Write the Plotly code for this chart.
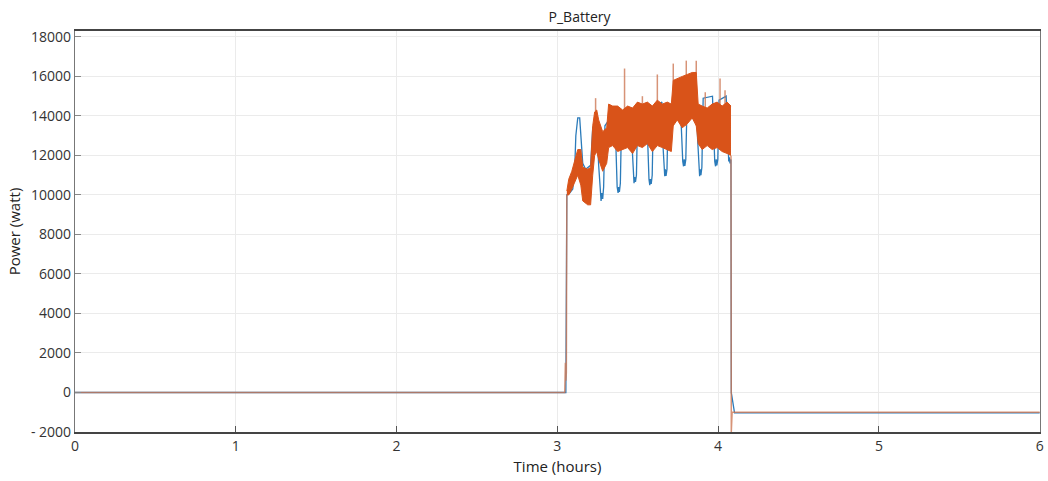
import plotly.graph_objects as go

# ---------------- data (hours, watts) ----------------
blue_t = [0.0, 3.053, 3.059, 3.077, 3.096, 3.108, 3.115, 3.127, 3.139, 3.146, 3.158, 3.176, 3.207, 3.220, 3.245,
          3.257, 3.266, 3.272, 3.276, 3.282, 3.288, 3.296, 3.330, 3.360,
          3.366, 3.372, 3.378, 3.381, 3.386, 3.392, 3.400, 3.460,
          3.466, 3.472, 3.477, 3.481, 3.486, 3.492, 3.500, 3.555,
          3.562, 3.570, 3.575, 3.579, 3.584, 3.590, 3.598, 3.650,
          3.657, 3.664, 3.668, 3.672, 3.676, 3.682, 3.690, 3.765,
          3.772, 3.780, 3.785, 3.789, 3.793, 3.799, 3.807, 3.865,
          3.872, 3.880, 3.885, 3.889, 3.893, 3.899, 3.907, 3.965,
          3.972, 3.979, 3.984, 3.988, 3.992, 3.998, 4.006, 4.050,
          4.060, 4.066, 4.070, 4.074, 4.080, 4.082, 4.102, 6.0]
blue_v = [0, 0, 10000, 10100, 10300, 11300, 13000, 13900, 13900, 13000, 11600, 11300, 11500, 13400, 13600,
          11500, 10000, 9700, 10100, 9800, 10400, 13500, 13900, 13900,
          12000, 10400, 10100, 10400, 10150, 10600, 14000, 14200,
          12300, 10900, 10600, 10900, 10660, 11000, 14300, 14400,
          12300, 10800, 10500, 10800, 10560, 11000, 14400, 14700,
          12500, 11200, 10950, 11300, 10960, 11300, 14500, 14600,
          12800, 11700, 11450, 11800, 11470, 11800, 14700, 14900,
          12900, 11200, 10950, 11300, 11000, 11400, 14900, 15000,
          13000, 11700, 11450, 11800, 11500, 11800, 14800, 15000,
          13000, 11700, 11900, 11600, 11800, 0, -1030, -1030]

# orange series: thin parts before / after the active period
orange_pre_t = [0.0, 3.046, 3.050, 3.053, 3.056, 3.059]
orange_pre_v = [0, 0, 1500, 600, 1000, 10000]
orange_post_t = [4.080, 4.082, 4.087, 6.0]
orange_post_v = [12000, -2000, -1000, -1000]

# orange series: envelope of the fast oscillation band
band_t = [3.059, 3.071, 3.090, 3.108, 3.127, 3.146, 3.158, 3.189, 3.207, 3.220, 3.232, 3.245, 3.257, 3.282,
          3.307, 3.319, 3.344, 3.375, 3.406, 3.437, 3.468, 3.498, 3.529, 3.560, 3.591, 3.622, 3.653, 3.684,
          3.709, 3.721, 3.746, 3.777, 3.808, 3.839, 3.864, 3.876, 3.901, 3.932, 3.963, 3.994, 4.025, 4.056, 4.080]
band_hi = [10200, 10800, 11200, 11800, 12300, 12300, 11400, 11300, 11400, 13500, 14200, 14300, 13800, 13200,
           13400, 14600, 14500, 14500, 14300, 14500, 14400, 14700, 14600, 14700, 14500, 14800, 14600, 14700,
           14600, 15800, 15900, 16000, 16100, 16200, 16200, 14600, 14500, 14400, 14600, 14700, 14500, 14700, 14500]
band_lo = [10000, 10000, 10300, 10600, 11000, 10500, 9700, 9500, 9500, 11000, 12000, 12200, 11800, 11200,
           11600, 12400, 12500, 12200, 12300, 12400, 12100, 12500, 12400, 12600, 12200, 12500, 12400, 12300,
           12200, 13500, 13800, 13400, 13600, 13900, 13500, 12600, 12300, 12500, 12300, 12400, 12200, 12100, 12000]

# narrow excursions above the band
spike_t = [3.238, 3.418, 3.529, 3.622, 3.721, 3.802, 3.864, 3.920, 4.012, 4.043]
spike_v = [14900, 16400, 15000, 16100, 16650, 16800, 16800, 15200, 15900, 15300]

x_ticks = [0, 1, 2, 3, 4, 5, 6]
y_ticks = [-2000, 0, 2000, 4000, 6000, 8000, 10000, 12000, 14000, 16000, 18000]

BLUE = "#2B7BBA"
ORANGE = "#D95319"
THIN_ORANGE = "rgba(205,120,85,0.8)"

fig = go.Figure()

fig.add_trace(go.Scatter(x=blue_t, y=blue_v, mode="lines",
                         line=dict(color=BLUE, width=1.3), hoverinfo="skip"))

sx, sy = [], []
for t, v in zip(spike_t, spike_v):
    sx += [t, t, None]
    sy += [13500, v, None]
fig.add_trace(go.Scatter(x=sx, y=sy, mode="lines",
                         line=dict(color=THIN_ORANGE, width=1.5), hoverinfo="skip"))

fig.add_trace(go.Scatter(x=band_t, y=band_lo, mode="lines",
                         line=dict(color=ORANGE, width=1), hoverinfo="skip"))
fig.add_trace(go.Scatter(x=band_t, y=band_hi, mode="lines", fill="tonexty",
                         fillcolor=ORANGE, line=dict(color=ORANGE, width=1), hoverinfo="skip"))

fig.add_trace(go.Scatter(x=orange_pre_t, y=orange_pre_v, mode="lines",
                         line=dict(color=THIN_ORANGE, width=1.5), hoverinfo="skip"))
fig.add_trace(go.Scatter(x=orange_post_t, y=orange_post_v, mode="lines",
                         line=dict(color=THIN_ORANGE, width=1.5), hoverinfo="skip"))

font_family = "Open Sans, Noto Sans, sans-serif"

fig.update_layout(
    width=1048, height=481,
    margin=dict(l=75, r=4, t=31, b=49),
    paper_bgcolor="white", plot_bgcolor="white",
    showlegend=False,
    font=dict(family=font_family, size=14, color="#333333"),
    title=dict(text="P_Battery", x=0.553, xanchor="center", y=0.965, yanchor="middle",
               font=dict(size=14, color="#222222")),
)
fig.update_xaxes(
    range=[0, 6.002], tickmode="array", tickvals=x_ticks, ticktext=[str(v) for v in x_ticks],
    showgrid=True, gridcolor="#EBEBEB", gridwidth=1,
    showline=True, linecolor="#444444", linewidth=1.5, mirror=True,
    ticks="inside", ticklen=6, tickcolor="#555555",
    zeroline=False,
    title=dict(text="Time (hours)", font=dict(size=15, color="#222222"), standoff=8),
)
fig.update_yaxes(
    range=[-2000, 18300], tickmode="array", tickvals=y_ticks,
    ticktext=[("- " + str(-v)) if v < 0 else str(v) for v in y_ticks],
    showgrid=True, gridcolor="#EBEBEB", gridwidth=1,
    showline=True, linecolor="#777777", linewidth=1.2, mirror=True,
    ticks="inside", ticklen=6, tickcolor="#888888",
    zeroline=False,
    title=dict(text="Power (watt)", font=dict(size=15, color="#222222"), standoff=6),
)

fig.write_html("out.html")
